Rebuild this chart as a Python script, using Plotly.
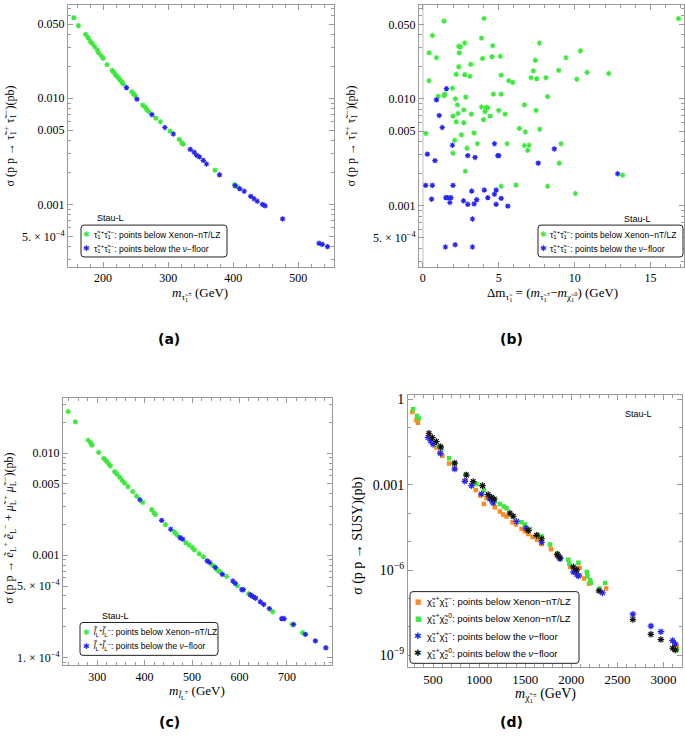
import plotly.graph_objects as go

# ---------------- data ----------------
# (a) stau pair production vs stau mass
A_green_m = [155,162,173,177,180,183,187,191,193,197,200,206,214,216,219,221,224,226,229,231,244,247,249,261,265,267,270,281,288,303,317,321,323,372,402,405]
A_green_s = [0.0574,0.0483,0.0399,0.0372,0.0346,0.0329,0.0306,0.0285,0.0269,0.0251,0.0237,0.0207,0.0183,0.0176,0.0167,0.0161,0.0155,0.0148,0.0142,0.0136,0.0115,0.0110,0.0106,0.0086,0.0082,0.0078,0.0075,0.0065,0.0060,0.0049,0.0041,0.0038,0.0037,0.0021,0.00153,0.00148]
A_blue_m = [236,252,275,295,308,334,340,344,348,354,359,379,403,410,417,427,432,437,445,449,476,532,537,545]
A_blue_s = [0.0126,0.0098,0.0070,0.0053,0.0046,0.0033,0.0031,0.0029,0.0028,0.0026,0.0024,0.0019,0.0015,0.00141,0.00133,0.00119,0.00113,0.00107,0.0010,0.00097,0.00073,0.00043,0.00042,0.00040]

# (b) stau pair production vs mass splitting
B_green_dm = [0.20,0.42,0.41,0.63,0.90,1.01,1.40,1.45,1.40,1.95,2.15,1.99,2.10,1.99,2.20,2.28,2.32,2.20,2.37,2.37,2.48,2.40,2.54,2.76,2.76,2.83,2.70,2.70,2.91,2.80,3.10,3.16,3.20,3.38,3.60,3.87,3.93,3.87,4.00,4.03,4.10,4.17,4.28,4.43,4.56,4.60,4.65,5.00,5.10,5.16,5.16,5.16,5.42,5.55,5.66,5.92,6.14,6.36,6.69,6.69,6.75,6.91,7.00,7.13,7.28,7.41,7.46,7.50,7.68,7.70,8.22,8.11,8.22,8.95,8.99,9.10,9.43,10.05,10.14,10.38,10.82,12.24,13.16,16.84]
B_green_s = [0.00475,0.027,0.0148,0.0393,0.0243,0.0106,0.0536,0.0111,0.0107,0.0126,0.0100,0.0069,0.0041,0.0031,0.0170,0.0088,0.0073,0.0061,0.0200,0.0311,0.0307,0.027,0.0046,0.0334,0.0169,0.0104,0.0079,0.0060,0.00345,0.0021,0.0163,0.0211,0.0072,0.0048,0.0038,0.0371,0.0239,0.0084,0.0064,0.0567,0.0076,0.0083,0.0083,0.0069,0.0249,0.0315,0.0111,0.0078,0.0251,0.0111,0.0167,0.00152,0.0072,0.0038,0.0148,0.0143,0.00156,0.0053,0.0088,0.00366,0.0049,0.0033,0.00368,0.0158,0.0183,0.0230,0.0078,0.0155,0.0334,0.0052,0.00152,0.0158,0.0105,0.0185,0.0025,0.0038,0.0243,0.0013,0.0153,0.0282,0.0177,0.0173,0.00193,0.0565]
B_blue_dm = [0.30,0.19,0.63,0.58,0.80,0.90,1.08,1.28,1.56,1.52,1.63,1.85,1.78,1.95,1.99,1.49,2.13,2.68,2.96,2.96,3.22,3.27,3.27,3.38,3.44,3.55,4.05,4.28,4.72,4.83,4.83,4.72,4.94,5.00,5.16,5.60,7.60,8.66,12.83]
B_blue_s = [0.00304,0.00155,0.00155,0.00115,0.00264,0.0098,0.0070,0.0054,0.0125,0.00119,0.00119,0.00119,0.00107,0.00368,0.00155,0.00041,0.00043,0.00111,0.00294,0.00103,0.00137,0.00075,0.00041,0.00104,0.00283,0.00114,0.00140,0.00119,0.00128,0.0014,0.00103,0.0038,0.00294,0.00294,0.00117,0.00099,0.0025,0.0034,0.00199]

# (c) selectron + smuon production vs slepton mass
C_green_m = [239,254,281,286,289,303,314,318,321,325,328,337,342,348,353,358,365,375,383,396,415,420,423,444,463,465,469,487,494,501,505,515,524,543,552,556,559,573,596,619,670,711,733]
C_green_s = [0.0256,0.0203,0.0134,0.0127,0.0120,0.0102,0.0089,0.0085,0.0082,0.0078,0.0075,0.0066,0.0062,0.0058,0.0054,0.0051,0.0047,0.0042,0.0038,0.0033,0.0028,0.0026,0.0025,0.0020,0.0017,0.00164,0.00157,0.00133,0.00126,0.00119,0.00113,0.00104,0.00097,0.0008,0.00073,0.0007,0.00069,0.00062,0.0005,0.00042,0.00028,0.00021,0.000175]
C_blue_m = [390,436,455,475,480,532,537,549,564,586,591,605,608,623,626,630,634,644,651,663,689,694,714,739,760,782]
C_blue_s = [0.0035,0.0022,0.0018,0.00149,0.00144,0.00088,0.00085,0.00076,0.00065,0.00056,0.00053,0.00046,0.00046,0.00041,0.0004,0.00039,0.00038,0.00035,0.00033,0.0003,0.00024,0.00024,0.00021,0.000168,0.000145,0.000124]

# (d) electroweakino production vs chargino mass
D_c1c1_xe_m = [275,319,337,456,482,536,572,601,674,735,855,964,1014,1051,1080,1134,1170,1225,1261,1297,1362,1399,1460,1496,1533,1580,1630,1678,1779,1841,1986,2040,2087,2094,2138,2192,2377,3145]
D_c1c1_xe_s = [0.36,0.184,0.152,0.0525,0.040,0.0204,0.0135,0.0105,5.6e-3,3.7e-3,1.45e-3,6.5e-4,4.2e-4,2.1e-4,3.4e-4,2.6e-4,1.6e-4,1.15e-4,8.9e-5,7.6e-5,4.8e-5,4.0e-5,2.75e-5,2.3e-5,1.86e-5,1.45e-5,1.15e-5,8.3e-6,5.4e-6,3.3e-6,1.29e-6,1.02e-6,1.2e-6,6.6e-7,5.0e-7,3.3e-7,2.24e-7,2.0e-9]
D_c1n2_xe_m = [282,326,344,518,561,590,674,728,855,971,1051,1170,1225,1268,1297,1369,1460,1496,1551,1634,1678,1768,1848,1967,1978,2076,2167,2174,2203,2210,2305,2366,3145]
D_c1n2_xe_s = [0.447,0.263,0.214,0.0324,0.0234,0.0178,8.5e-3,5.6e-3,2.34e-3,1.05e-3,6.5e-4,2.75e-4,2.1e-4,1.7e-4,1.48e-4,7.8e-5,4.8e-5,4.0e-5,2.8e-5,1.74e-5,1.51e-5,7.9e-6,3.8e-6,2.3e-6,1.66e-6,1.82e-6,8.5e-7,6.0e-7,4.4e-7,3.6e-7,2.24e-7,3.5e-7,1.55e-9]
D_c1c1_nu_m = [445,474,500,580,735,844,917,1025,1116,1152,1406,1507,1678,1859,1877,2022,2058,2076,2337,2667,2863,2971,3098,3127]
D_c1c1_nu_s = [0.0457,0.0347,0.0263,0.0126,3.55e-3,1.32e-3,9.3e-4,4.7e-4,3.16e-4,2.3e-4,5.1e-5,3.0e-5,9.5e-6,3.1e-6,2.5e-6,8.5e-7,7.1e-7,6.2e-7,1.58e-7,2.8e-8,1.07e-8,6.8e-9,3.3e-9,2.5e-9]
D_c1n2_nu_m = [456,492,536,583,735,862,935,1036,1098,1134,1163,1333,1369,1533,1623,1678,1848,1877,2022,2058,2299,2667,2863,2971,3098,3127]
D_c1n2_nu_s = [0.0646,0.0457,0.0331,0.0214,5.75e-3,2.19e-3,1.29e-3,9.3e-4,4.5e-4,3.6e-4,3.16e-4,1.0e-4,7.8e-5,2.45e-5,1.66e-5,1.26e-5,3.55e-6,2.7e-6,1.29e-6,1.02e-6,1.86e-7,1.82e-8,5.5e-9,3.6e-9,1.78e-9,1.55e-9]

# tick labels
AB_yticks = [0.05, 0.01, 0.005, 0.001, 5e-4]
AB_yticktext = ["0.050", "0.010", "0.005", "0.001", "5. × 10<sup>−4</sup>"]
C_yticks = [0.01, 0.005, 0.001, 5e-4, 1e-4]
C_yticktext = ["0.010", "0.005", "0.001", "5. × 10<sup>−4</sup>", "1. × 10<sup>−4</sup>"]
D_yticks = [1, 1e-3, 1e-6, 1e-9]
D_yticktext = ["1", "0.001", "10<sup>−6</sup>", "10<sup>−9</sup>"]

# ---------------- styling ----------------
W, H = 685, 744
def px(x): return x / W
def py(y): return 1 - y / H

GREEN = "#3ce83c"
BLUE = "#2626f0"
ORANGE = "#ff8a1f"
BLACK = "#111111"
FRAME = "#9a9a9a"
SERIF = "Liberation Serif"
SANS = "Liberation Sans"

def star(color, size=4.5):
    return dict(symbol="asterisk-open", size=size, color=color, line=dict(color=color, width=1.2))

def sq(color, size=4.5):
    return dict(symbol="square", size=size, color=color, line=dict(width=0))

fig = go.Figure()

def add(x, y, marker, ax, name):
    fig.add_trace(go.Scatter(x=x, y=y, mode="markers", marker=marker, name=name,
                             xaxis="x" + ax, yaxis="y" + ax, showlegend=False))

add(A_green_m, A_green_s, star(GREEN), "", "Xenon")
add(A_blue_m, A_blue_s, star(BLUE), "", "nu-floor")
add(B_green_dm, B_green_s, star(GREEN), "2", "Xenon")
add(B_blue_dm, B_blue_s, star(BLUE), "2", "nu-floor")
add(C_green_m, C_green_s, star(GREEN), "3", "Xenon")
add(C_blue_m, C_blue_s, star(BLUE), "3", "nu-floor")
add(D_c1c1_xe_m, D_c1c1_xe_s, sq(ORANGE), "4", "c1c1 Xenon")
add(D_c1n2_xe_m, D_c1n2_xe_s, sq(GREEN), "4", "c1n2 Xenon")
add(D_c1c1_nu_m, D_c1c1_nu_s, star(BLUE, 5.5), "4", "c1c1 nu-floor")
add(D_c1n2_nu_m, D_c1n2_nu_s, star(BLACK, 5.5), "4", "c1n2 nu-floor")

def logminor(lo, hi):
    vals = []
    for e in range(lo, hi + 1):
        for k in range(1, 10):
            vals.append(k * 10 ** e)
    return vals

def axis(domain, rng, anchor, typ="linear", tickvals=None, ticktext=None, minor=None, fs=12):
    d = dict(domain=domain, range=rng, anchor=anchor, type=typ, showline=True,
             linecolor=FRAME, linewidth=1, mirror="ticks", ticks="inside", ticklen=5,
             tickcolor=FRAME, tickwidth=1, showgrid=False, zeroline=False,
             tickfont=dict(family=SERIF, size=fs, color="black"),
             tickmode="array", tickvals=tickvals, ticktext=ticktext)
    if minor is not None:
        d["minor"] = dict(tickmode="array", tickvals=minor, ticks="inside", ticklen=3,
                          tickcolor=FRAME, tickwidth=1, showgrid=False)
    return d

dA_x = [px(68), px(334)]
dA_y = [py(265), py(2)]
dB_x = [px(419), px(684)]
dC_x = [px(63), px(332)]
dC_y = [py(665), py(397)]
dD_x = [px(408), px(682)]
dD_y = [py(667), py(394)]

layout = dict(
    width=W, height=H, margin=dict(l=0, r=0, t=0, b=0),
    paper_bgcolor="white", plot_bgcolor="white", showlegend=False,
    xaxis=axis(dA_x, [146, 555], "y", tickvals=[200, 300, 400, 500],
               ticktext=["200", "300", "400", "500"], minor=list(range(160, 560, 20))),
    yaxis=axis(dA_y, [-3.589, -1.122], "x", typ="log", tickvals=AB_yticks,
               ticktext=AB_yticktext, minor=logminor(-4, -2)),
    xaxis2=axis(dB_x, [-0.25, 17.2], "y2", tickvals=[0, 5, 10, 15],
                ticktext=["0", "5", "10", "15"], minor=list(range(0, 18))),
    yaxis2=axis(dA_y, [-3.574, -1.12], "x2", typ="log", tickvals=AB_yticks,
                ticktext=AB_yticktext, minor=logminor(-4, -2)),
    xaxis3=axis(dC_x, [228, 795], "y3", tickvals=[300, 400, 500, 600, 700],
                ticktext=["300", "400", "500", "600", "700"], minor=list(range(240, 800, 20))),
    yaxis3=axis(dC_y, [-4.078, -1.463], "x3", typ="log", tickvals=C_yticks,
                ticktext=C_yticktext, minor=logminor(-5, -2)),
    xaxis4=axis(dD_x, [228, 3200], "y4", tickvals=[500, 1000, 1500, 2000, 2500, 3000],
                ticktext=["500", "1000", "1500", "2000", "2500", "3000"],
                minor=list(range(300, 3200, 100)), fs=13),
    yaxis4=axis(dD_y, [-9.42, 0.14], "x4", typ="log", tickvals=D_yticks,
                ticktext=D_yticktext, minor=[10 ** e for e in range(-9, 1)], fs=14),
)
layout["xaxis2"]["zeroline"] = True
layout["xaxis2"]["zerolinecolor"] = "#e0e0e0"
layout["xaxis2"]["zerolinewidth"] = 1.5
fig.update_layout(**layout)

ann = []
def text(x, y, s, size=12, family=SERIF, angle=0, xanchor="center", color="black"):
    ann.append(dict(x=px(x), y=py(y), xref="paper", yref="paper", text=s, showarrow=False,
                    font=dict(family=family, size=size, color=color), textangle=angle,
                    xanchor=xanchor, yanchor="middle"))

tau = "τ̃"
# axis titles
text(200, 292, "<i>m</i><sub>" + tau + "<sub>1</sub><sup>±</sup></sub> (GeV)", 13)
text(10, 134, "σ (p p → " + tau + "<sub>1</sub><sup>+</sup> " + tau + "<sub>1</sub><sup>−</sup>)(pb)", 12, angle=-90)
text(552, 292, "Δm<sub>" + tau + "<sub>1</sub></sub> = (<i>m</i><sub>" + tau + "<sub>1</sub><sup>±</sup></sub>−<i>m</i><sub>χ̃<sub>1</sub><sup>0</sup></sub>) (GeV)", 13)
text(351, 134, "σ (p p → " + tau + "<sub>1</sub><sup>+</sup> " + tau + "<sub>1</sub><sup>−</sup>)(pb)", 12, angle=-90)
text(197, 692, "<i>m</i><sub><i>l̃</i><sub>L</sub><sup>±</sup></sub> (GeV)", 13)
text(10, 528, "σ (p p → <i>ẽ</i><sub>L</sub><sup>+</sup> <i>ẽ</i><sub>L</sub><sup>−</sup> + <i>μ̃</i><sub>L</sub><sup>+</sup> <i>μ̃</i><sub>L</sub><sup>−</sup>)(pb)", 12, angle=-90)
text(545, 695, "<i>m</i><sub>χ̃<sub>1</sub><sup>±</sup></sub> (GeV)", 14)
text(358, 535, "σ (p p → SUSY)(pb)", 14, angle=-90)

# captions
for cx, cy, lab in [(169, 337, "(a)"), (511, 337, "(b)"), (169, 722, "(c)"), (511, 722, "(d)")]:
    text(cx, cy, "<b>" + lab + "</b>", 14, family="DejaVu Sans")

# Stau-L labels
text(95, 216, "Stau-L", 9, family=SANS, xanchor="left")
text(622, 217, "Stau-L", 9, family=SANS, xanchor="left")
text(100, 615, "Stau-L", 9, family=SANS, xanchor="left")
text(623, 413, "Stau-L", 9, family=SANS, xanchor="left")

shapes = []
def box(x0, y0, x1, y1, r=3):
    X0, X1 = px(x0), px(x1)
    Y0, Y1 = py(y1), py(y0)
    rx, ry = r / W, r / H
    path = (f"M {X0+rx},{Y1} L {X1-rx},{Y1} Q {X1},{Y1} {X1},{Y1-ry} L {X1},{Y0+ry} "
            f"Q {X1},{Y0} {X1-rx},{Y0} L {X0+rx},{Y0} Q {X0},{Y0} {X0},{Y0+ry} "
            f"L {X0},{Y1-ry} Q {X0},{Y1} {X0+rx},{Y1} Z")
    shapes.append(dict(type="path", path=path, xref="paper", yref="paper",
                       line=dict(color="#222222", width=1), fillcolor="white", layer="above"))

def entry(mx, tx, y, glyph, color, label, size=8.5, gsize=8):
    text(mx, y, glyph, gsize, family="DejaVu Sans", color=color)
    text(tx, y, label, size, family=SANS, xanchor="left")

STAR = "✱"
SQ = "■"
tt = tau + "<sub>1</sub><sup>+</sup>" + tau + "<sub>1</sub><sup>−</sup>"
ll = "<i>l̃</i><sub>L</sub><sup>+</sup><i>l̃</i><sub>L</sub><sup>−</sup>"
cc = "χ̃<sub>1</sub><sup>+</sup>χ̃<sub>1</sub><sup>−</sup>"
cn = "χ̃<sub>1</sub><sup>+</sup>χ̃<sub>2</sub><sup>0</sup>"
XE = ": points below Xenon−nT/LZ"
NU = ": points below the <i>ν</i>−floor"

box(81, 223, 227, 255)
entry(87, 92, 232, STAR, GREEN, tt + XE)
entry(87, 92, 246, STAR, BLUE, tt + NU)

box(538, 223, 683, 255)
entry(543, 548, 232, STAR, GREEN, tt + XE)
entry(543, 548, 246, STAR, BLUE, tt + NU)

box(80, 622, 218, 655)
entry(86, 91, 632, STAR, GREEN, ll + XE)
entry(86, 91, 646, STAR, BLUE, ll + NU)

box(410, 591, 579, 663)
entry(418, 425, 601, SQ, ORANGE, cc + XE, 9.5, 7)
entry(418, 425, 618, SQ, GREEN, cn + XE, 9.5, 7)
entry(418, 425, 636, STAR, BLUE, cc + NU, 9.5, 9)
entry(418, 425, 653, STAR, BLACK, cn + NU, 9.5, 9)

fig.update_layout(annotations=ann, shapes=shapes)
fig.write_html("out.html", config={"displayModeBar": False},
               post_script="document.body.style.margin='0';document.body.style.overflow='hidden';")
